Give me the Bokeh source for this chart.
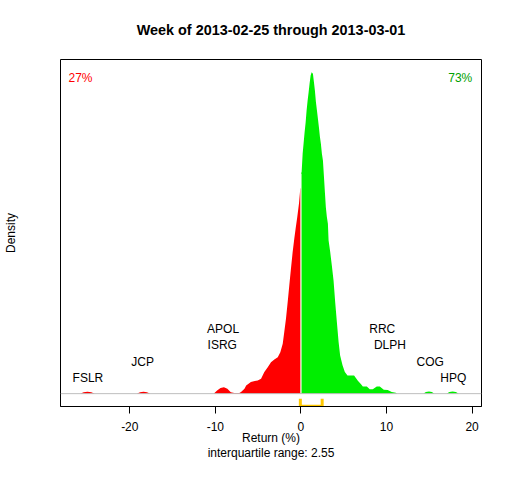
import numpy as np
from bokeh.plotting import figure
from bokeh.models import Range1d, FixedTicker, Span, LinearAxis
from bokeh.core.properties import value
from bokeh.embed import file_html
from bokeh.resources import INLINE

# ---------------- data ----------------
title_text = "Week of 2013-02-25 through 2013-03-01"
x_label = "Return (%)"
y_label = "Density"
subtitle = "interquartile range: 2.55"

# density of weekly returns, losers (x <= 0)
loss_x = [-25.8, -25.4, -24.95, -24.5, -24.1, -19.2, -18.8, -18.4, -18.0, -17.6,
          -10.2, -9.8, -9.4, -9.0, -8.6, -8.2, -7.8, -7.2, -7.0, -6.6, -6.4,
          -5.85, -5.4, -5.05, -4.66, -4.28, -3.88, -3.50, -3.11, -2.71, -2.41,
          -2.13, -1.95, -1.75, -1.55, -1.36, -1.17, -0.97, -0.78, -0.62, -0.43,
          -0.23, -0.08, 0.0]
loss_d = [0.0, 0.0008, 0.0012, 0.0008, 0.0, 0.0, 0.0008, 0.0012, 0.0008, 0.0,
          0.0, 0.0020, 0.0035, 0.0040, 0.0030, 0.0008, 0.0004, 0.0004, 0.0010, 0.0030, 0.0050,
          0.0072, 0.0078, 0.0082, 0.0093, 0.0134, 0.0165, 0.0196, 0.0213, 0.0227, 0.0258,
          0.0311, 0.0383, 0.0466, 0.0570, 0.0674, 0.0777, 0.0881, 0.0964, 0.1028, 0.1099,
          0.1184, 0.1275, 0.1280]

# density of weekly returns, gainers (x >= 0)
gain_x = [0.0, 0.08, 0.20, 0.31, 0.43, 0.55, 0.66, 0.78, 0.90, 1.01, 1.13, 1.25, 1.40,
          1.52, 1.63, 1.75, 1.87, 1.98, 2.10, 2.22, 2.33, 2.45, 2.57, 2.68, 2.80, 2.91,
          3.03, 3.15, 3.23, 3.42, 3.61, 3.81, 4.00, 4.20, 4.40, 4.58, 4.86, 5.13, 5.44,
          6.21, 6.65, 7.00, 7.23, 7.70, 8.04, 8.39, 8.86, 9.21, 9.68, 10.14, 10.61, 11.08,
          11.25, 14.3, 14.6, 14.96, 15.3, 15.6, 17.0, 17.35, 17.72, 18.1, 18.45]
gain_d = [0.1370, 0.1379, 0.1495, 0.1559, 0.1628, 0.1690, 0.1763, 0.1825, 0.1877, 0.1931,
          0.1981, 0.2000, 0.1991, 0.1939, 0.1887, 0.1815, 0.1763, 0.1713, 0.1659, 0.1597,
          0.1556, 0.1493, 0.1452, 0.1358, 0.1254, 0.1161, 0.1099, 0.1058, 0.0954, 0.0881,
          0.0798, 0.0705, 0.0570, 0.0445, 0.0321, 0.0238, 0.0176, 0.0134, 0.0113, 0.0113,
          0.0080, 0.0060, 0.0045, 0.0045, 0.0028, 0.0028, 0.0045, 0.0045, 0.0024, 0.0022,
          0.0010, 0.0005, 0.0, 0.0, 0.0010, 0.0014, 0.0010, 0.0, 0.0, 0.0010, 0.0014,
          0.0010, 0.0]

stock_names = ["FSLR", "JCP", "ISRG", "APOL", "RRC", "DLPH", "COG", "HPQ"]
stock_x = [-24.9, -18.5, -9.2, -9.1, 9.5, 10.4, 15.1, 17.8]
stock_level = [0.01, 0.02, 0.03, 0.04, 0.04, 0.03, 0.02, 0.01]

share_labels = ["27%", "73%"]
q1, q3 = -0.07, 2.48
x_ticks = [-20, -10, 0, 10, 20]
x_tick_labels = ["-20", "-10", "0", "10", "20"]

# ---------------- plot ----------------
FONT = "Liberation Sans"
RED = "#FF0000"
GREEN = "#00EE00"

W, H = 496, 464
BL, BR, BT, BB = 59, 15, 59, 58

peak = max(max(gain_d), max(loss_d))
y0, y1 = -0.04 * peak, 1.04 * peak
x0, x1 = -28.1, 21.1

p = figure(width=W, height=H,
           x_range=Range1d(x0, x1), y_range=Range1d(y0, y1),
           x_axis_type=None, y_axis_type=None,
           output_backend="svg", toolbar_location=None,
           min_border_left=BL, min_border_right=BR,
           min_border_top=BT, min_border_bottom=BB)
p.background_fill_color = "white"
p.border_fill_color = "white"
p.outline_line_color = "black"
p.outline_line_width = 1
p.outline_line_alpha = 1.0


def text_axis(label, size, style, standoff):
    ax = LinearAxis(ticker=FixedTicker(ticks=[]))
    ax.major_tick_out = 0
    ax.major_tick_in = 0
    ax.minor_tick_out = 0
    ax.minor_tick_in = 0
    ax.major_label_standoff = 0
    ax.axis_line_color = None
    ax.axis_label = label
    ax.axis_label_text_font = FONT
    ax.axis_label_text_font_size = size
    ax.axis_label_text_font_style = style
    ax.axis_label_text_color = "black"
    ax.axis_label_standoff = standoff
    return ax


# main title as a bare axis above the frame
p.add_layout(text_axis(title_text, "14.4px", "bold", 22), "above")

xaxis = LinearAxis(ticker=FixedTicker(ticks=x_ticks),
                   major_label_overrides={t: s for t, s in zip(x_ticks, x_tick_labels)})
xaxis.major_tick_out = 7
xaxis.major_tick_in = 0
xaxis.minor_tick_out = 0
xaxis.minor_tick_in = 0
xaxis.major_tick_line_color = "black"
xaxis.axis_line_color = "black"
xaxis.major_label_text_font = FONT
xaxis.major_label_text_font_size = "12px"
xaxis.major_label_text_color = "black"
xaxis.major_label_standoff = 8
xaxis.axis_label = x_label
xaxis.axis_label_text_font = FONT
xaxis.axis_label_text_font_size = "12px"
xaxis.axis_label_text_font_style = "normal"
xaxis.axis_label_text_color = "black"
xaxis.axis_label_standoff = -3
p.add_layout(xaxis, "below")

# subtitle under the x-axis title
p.add_layout(text_axis(subtitle, "12px", "normal", -2), "below")

# y-axis title only
p.add_layout(text_axis(y_label, "12px", "normal", 43), "left")

# density areas
p.varea(x=loss_x, y1=np.zeros(len(loss_x)), y2=loss_d, fill_color=RED, fill_alpha=1.0)
p.varea(x=gain_x, y1=np.zeros(len(gain_x)), y2=gain_d, fill_color=GREEN, fill_alpha=1.0)
p.segment(x0=[0], y0=[0], x1=[0], y1=[gain_d[0]], line_color="white", line_width=1.2)

# baseline
p.add_layout(Span(location=0, dimension="width", line_color="#BEBEBE", line_width=1))

# IQR bracket
p.line(x=[q1, q1, q3, q3], y=[-0.016 * peak, -0.039 * peak, -0.039 * peak, -0.016 * peak],
       line_color="#FFC800", line_width=3, line_join="miter")

# stock labels
p.text(x=stock_x, y=stock_level, text=stock_names, text_align="center",
       text_baseline="middle", text_font=value(FONT), text_font_size="12px",
       text_color="black")

# share labels
p.text(x=[-27.17], y=[0.981 * peak], text=[share_labels[0]], text_align="left",
       text_baseline="middle", text_font=value(FONT), text_font_size="12px",
       text_color=RED)
p.text(x=[20.02], y=[0.981 * peak], text=[share_labels[1]], text_align="right",
       text_baseline="middle", text_font=value(FONT), text_font_size="12px",
       text_color="#00A000")

open("out.html", "w").write(file_html(p, INLINE))
